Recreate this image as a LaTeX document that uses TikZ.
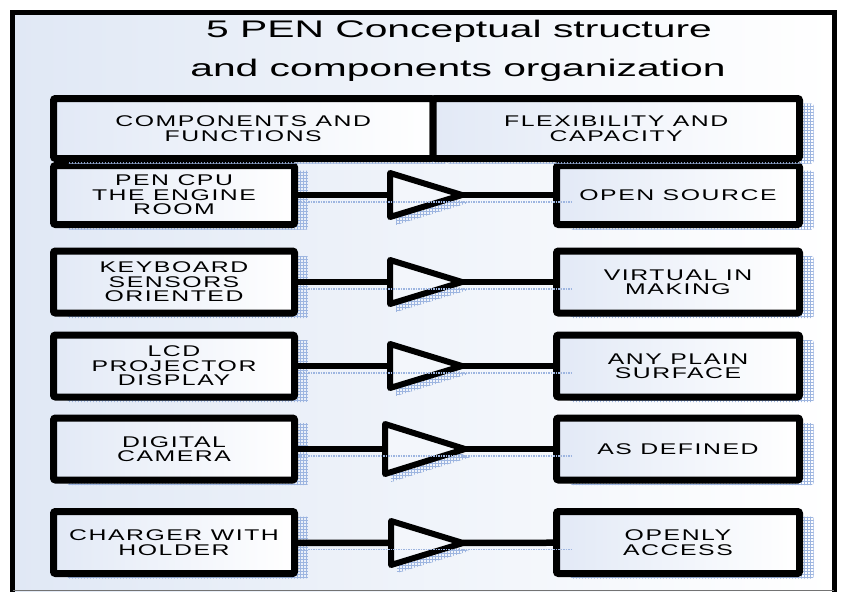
\documentclass[tikz,border=0pt]{standalone}
\usepackage{fontspec}
\setmainfont{Liberation Sans}
\newfontfamily\labelfont[FakeStretch=1.6,LetterSpace=10]{Liberation Sans}
\newfontfamily\headfont[FakeStretch=1.7]{Liberation Sans}
\usetikzlibrary{shapes.geometric,shadows,patterns}

\definecolor{panel}{HTML}{E0E8F5}
\definecolor{boxtint}{HTML}{E2E9F6}
\definecolor{hatch}{HTML}{9DB5E0}

\begin{document}
\begin{tikzpicture}[x=1pt,y=-1pt]
\tikzstyle{cell}=[draw, line width=7pt, rounded corners=2pt, left color=boxtint, right color=white,
  minimum width=241pt, minimum height=62pt, inner sep=0pt, align=center,
  font=\labelfont\fontsize{15.5}{14.5}\selectfont,
  drop shadow={shadow xshift=14pt, shadow yshift=-5pt, opacity=1, pattern=grid, pattern color=hatch}]
\tikzstyle{amp}=[draw, line width=6pt, line join=round, isosceles triangle, isosceles triangle stretches,
  minimum width=44pt, minimum height=72pt, inner sep=0pt, outer sep=0pt, anchor=west, fill=panel!40,
  drop shadow={shadow xshift=6pt, shadow yshift=-8pt, opacity=1, pattern=grid, pattern color=hatch}]
\tikzstyle{link}=[line width=6.5pt]
\tikzstyle{linkshade}=[hatch, line width=1.5pt, densely dotted]
\useasboundingbox (0,0) rectangle (844,592);
\shade [left color=panel, right color=white] (12.5,12.5) rectangle (834,592);
\draw [line width=5pt] (12.5,592) -- (12.5,12.5) -- (834,12.5) -- (834,592);
\draw [black!55, line width=1.5pt] (12.5,590.5) -- (834,590.5);
\node (title) at (459,31) {\headfont\fontsize{24}{24}\selectfont 5 PEN Conceptual structure};
\node (subtitle) at (458,70) {\headfont\fontsize{24}{24}\selectfont and components organization};
\node [cell, minimum height=59pt] (cpu) at (174,195) {PEN CPU\\THE ENGINE\\ROOM};
\node [cell, minimum width=243pt, minimum height=59pt] (source) at (678,195) {OPEN SOURCE};
\node [cell] (keys) at (174,282) {KEYBOARD\\SENSORS\\ORIENTED};
\node [cell, minimum width=243pt] (virtual) at (678,282) {VIRTUAL IN\\MAKING};
\node [cell] (lcd) at (174,366) {LCD\\PROJECTOR\\DISPLAY};
\node [cell, minimum width=243pt] (surface) at (678,366) {ANY PLAIN\\SURFACE};
\node [cell] (camera) at (174,449) {DIGITAL\\CAMERA};
\node [cell, minimum width=243pt] (defined) at (678,449) {AS DEFINED};
\node [cell] (charger) at (174,542.5) {CHARGER WITH\\HOLDER};
\node [cell, minimum width=243pt] (access) at (678,542.5) {OPENLY\\ACCESS};
\node [cell, minimum width=379.5pt, minimum height=60pt] (compfun) at (243.25,128.5) {COMPONENTS AND\\FUNCTIONS};
\node [cell, minimum width=366.5pt, minimum height=60pt] (flexcap) at (616.25,128.5) {FLEXIBILITY AND\\CAPACITY};
\node [amp] (amp1) at (390,195) {};
\node [amp] (amp2) at (390,282) {};
\node [amp] (amp3) at (390,366) {};
\node [amp, minimum width=50pt, minimum height=80pt] (amp4) at (385,449) {};
\node [amp] (amp5) at (391,543) {};
\draw [link] (cpu) -- (amp1) -- (source);
\draw [link] (keys) -- (amp2) -- (virtual);
\draw [link] (lcd) -- (amp3) -- (surface);
\draw [link] (camera) -- (amp4) -- (defined);
\draw [link] (charger) -- (amp5) -- (access);
\draw [linkshade] ([yshift=-7pt]cpu.east) -- ([xshift=20pt,yshift=-7pt]source.west);
\draw [linkshade] ([yshift=-7pt]keys.east) -- ([xshift=20pt,yshift=-7pt]virtual.west);
\draw [linkshade] ([yshift=-7pt]lcd.east) -- ([xshift=20pt,yshift=-7pt]surface.west);
\draw [linkshade] ([yshift=-7pt]camera.east) -- ([xshift=20pt,yshift=-7pt]defined.west);
\draw [linkshade] ([yshift=-7pt]charger.east) -- ([xshift=20pt,yshift=-7pt]access.west);
\end{tikzpicture}
\end{document}
